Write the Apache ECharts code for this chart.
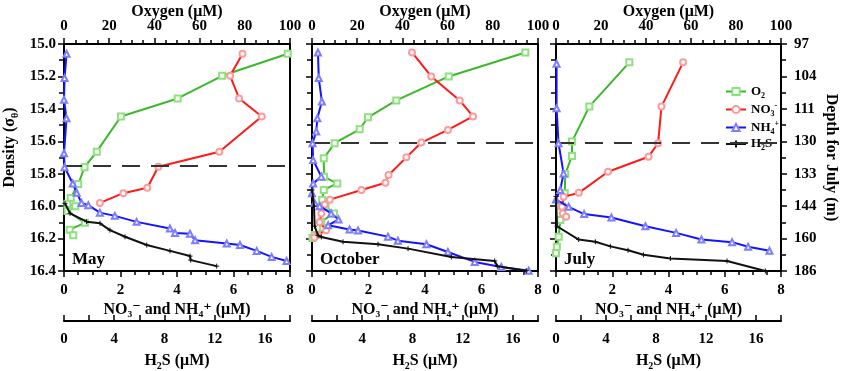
<!DOCTYPE html>
<html>
<head>
<meta charset="utf-8">
<script src="https://cdn.jsdelivr.net/npm/echarts@6/dist/echarts.min.js"></script>
<style>
  html, body { margin: 0; padding: 0; background: #fff; }
  #chart { width: 843px; height: 371px; }
</style>
</head>
<body>
<div id="chart"></div>
<script>
// profiles: [value, density sigma-theta]
const mayO2 = [[99, 15.06], [70, 15.196], [50.3, 15.336], [25.2, 15.447], [14.5, 15.664], [9.1, 15.76], [6.3, 15.864], [3.0, 15.95], [1.5, 15.985], [5.0, 16.0], [1.5, 16.03], [9.3, 16.103], [2.5, 16.145], [4.1, 16.18]];
const mayNO3 = [[6.32, 15.06], [5.88, 15.196], [6.2, 15.336], [7.0, 15.447], [5.5, 15.664], [3.34, 15.757], [2.95, 15.887], [2.1, 15.92], [1.27, 15.98]];
const mayNH4 = [[0.09, 15.06], [0.02, 15.21], [0, 15.344], [0.09, 15.458], [0, 15.674], [0.02, 15.76], [0.31, 15.86], [0.45, 15.917], [0.62, 15.98], [0.86, 15.994], [1.27, 16.04], [1.8, 16.06], [2.57, 16.097], [3.75, 16.138], [3.93, 16.165], [4.46, 16.17], [4.64, 16.21], [5.76, 16.23], [6.23, 16.24], [6.82, 16.276], [7.35, 16.313], [7.88, 16.338]];
const mayH2S = [[0.08, 15.983], [0.48, 16.044], [1.8, 16.096], [2.87, 16.106], [3.66, 16.148], [4.86, 16.189], [6.59, 16.24], [8.44, 16.276], [10.04, 16.308], [10.09, 16.333], [12.16, 16.37]];

const octO2 = [[94.4, 15.052], [60.5, 15.2], [37.3, 15.348], [24.8, 15.452], [21.1, 15.526], [10, 15.612], [5.2, 15.705], [5.3, 15.819], [11.2, 15.86], [5.2, 15.9], [4.5, 15.96], [6, 16.0], [9.7, 16.045], [4.1, 16.096], [4.9, 16.135], [1.2, 16.178], [0.2, 16.197]];
const octNO3 = [[3.54, 15.052], [4.22, 15.2], [5.23, 15.348], [5.7, 15.447], [4.81, 15.53], [3.87, 15.608], [3.34, 15.699], [2.71, 15.808], [2.6, 15.856], [1.75, 15.9], [0.63, 15.96], [0.45, 15.99], [0.33, 16.045], [0.27, 16.1], [0.5, 16.148], [0.2, 16.178], [0.08, 16.193]];
const octNH4 = [[0.21, 15.052], [0.24, 15.21], [0.35, 15.355], [0.19, 15.458], [0.15, 15.54], [0.02, 15.612], [0.04, 15.716], [0.33, 15.818], [0.04, 15.86], [0, 15.92], [0.09, 15.98], [0.27, 16.0], [0.68, 16.045], [0.94, 16.082], [0.57, 16.118], [1.33, 16.144], [1.63, 16.15], [2.69, 16.188], [3.04, 16.213], [4.05, 16.235], [4.81, 16.283], [5.76, 16.344], [6.7, 16.375], [7.67, 16.398]];
const octH2S = [[0, 15.9], [0.16, 16.0], [0.21, 16.124], [0.48, 16.18], [0.74, 16.19], [2.47, 16.22], [5.26, 16.235], [7.65, 16.262], [11.1, 16.313], [14.55, 16.338], [14.76, 16.371], [17.07, 16.398]];

const julO2 = [[32.6, 15.113], [14.8, 15.386], [7.1, 15.602], [7.1, 15.69], [4.1, 15.802], [3.9, 15.92], [2.7, 16.0], [1.9, 16.086], [1.2, 16.189], [0.4, 16.25], [0, 16.29]];
const julNO3 = [[4.52, 15.113], [3.75, 15.386], [3.63, 15.612], [3.29, 15.695], [1.85, 15.788], [0.81, 15.918], [0.27, 15.942], [0.21, 16.004], [0.24, 16.045], [0.36, 16.066]];
const julNH4 = [[0.02, 15.122], [0.02, 15.396], [0.09, 15.612], [0.27, 15.798], [0.15, 15.9], [0, 15.959], [0.45, 16.004], [1.0, 16.049], [1.97, 16.07], [3.18, 16.124], [4.27, 16.165], [5.17, 16.206], [6.26, 16.222], [6.83, 16.25], [7.59, 16.275]];
const julH2S = [[0, 15.94], [0.08, 16.124], [1.81, 16.206], [3.15, 16.22], [4.35, 16.248], [5.76, 16.272], [7.0, 16.3], [9.15, 16.323], [13.68, 16.338], [16.75, 16.4]];

const months = ["May", "October", "July"];
const boundary = [15.75, 15.61, 15.61];   // dashed line, density
const depthLabels = ["97", "104", "111", "130", "133", "144", "160", "186"];  // July depth at 15.0 ... 16.4
const seriesNames = ["O2", "NO3", "NH4", "H2S"];

const panels = [
  [mayO2, mayNO3, mayNH4, mayH2S],
  [octO2, octNO3, octNH4, octH2S],
  [julO2, julNO3, julNH4, julH2S],
];

const FONT = "Liberation Serif";
const gridBox = [
  { left: 64, width: 226 },
  { left: 312, width: 226 },
  { left: 556, width: 225 },
];
const GRID_TOP = 44, GRID_H = 227;

const labelStyle = { fontFamily: FONT, fontWeight: "bold", fontSize: 15, color: "#000" };
const rich = {
  a: { fontFamily: FONT, fontWeight: "bold", fontSize: 16, color: "#000", lineHeight: 20 },
  sub: { fontFamily: FONT, fontWeight: "bold", fontSize: 10, color: "#000", verticalAlign: "bottom", lineHeight: 12 },
  sup: { fontFamily: FONT, fontWeight: "bold", fontSize: 10, color: "#000", verticalAlign: "top", lineHeight: 12 },
};
const legendRich = {
  a: { fontFamily: FONT, fontWeight: "bold", fontSize: 13, color: "#000", lineHeight: 16 },
  sub: { fontFamily: FONT, fontWeight: "bold", fontSize: 8, color: "#000", verticalAlign: "bottom", lineHeight: 9 },
  sup: { fontFamily: FONT, fontWeight: "bold", fontSize: 8, color: "#000", verticalAlign: "top", lineHeight: 9 },
};
const legendText = {
  O2: "{a|O}{sub|2}",
  NO3: "{a|NO}{sub|3}{sup|-}",
  NH4: "{a|NH}{sub|4}{sup|+}",
  H2S: "{a|H}{sub|2}{a|S}",
};

const axisLine = { onZero: false, lineStyle: { color: "#000", width: 2 } };
const tickStyle = { lineStyle: { color: "#000", width: 1.5 } };

const lineColor = ["#3cb82c", "#ff1a1a", "#1414ff", "#111111"];
const markColor = ["#8fe07f", "#ff9a9a", "#7d7dff", "#111111"];
const symbols = ["emptyRect", "emptyCircle", "emptyTriangle", "path://M0,5L10,5M5,0L5,10"];
const symbolSizes = [6, 6, 6, 5];

const grid = [], xAxis = [], yAxis = [], series = [], title = [], graphic = [];

// grids 0..2: panels; grids 3..5: same boxes, carry the H2S scale
for (let pass = 0; pass < 2; pass++) {
  gridBox.forEach((g) => {
    grid.push({ left: g.left, width: g.width, top: GRID_TOP, height: GRID_H, outerBoundsMode: "none" });
  });
}

gridBox.forEach((g, i) => {
  // xAxis 2i: oxygen (top)
  xAxis.push({
    gridIndex: i, type: "value", position: "top", min: 0, max: 100, interval: 20,
    name: "Oxygen (μM)", nameLocation: "middle", nameGap: 24, nameMoveOverlap: false,
    nameTextStyle: { fontFamily: FONT, fontWeight: "bold", fontSize: 16, color: "#000" },
    axisLine: axisLine,
    axisTick: Object.assign({ length: 6 }, tickStyle),
    minorTick: { show: true, splitNumber: 4, length: 4, lineStyle: { color: "#000", width: 1.5 } },
    axisLabel: Object.assign({ margin: 10 }, labelStyle),
    splitLine: { show: false },
  });
  // xAxis 2i+1: nitrate / ammonium (bottom); its title is a graphic text
  xAxis.push({
    gridIndex: i, type: "value", position: "bottom", min: 0, max: 8, interval: 2,
    axisLine: axisLine,
    axisTick: Object.assign({ length: 6 }, tickStyle),
    minorTick: { show: true, splitNumber: 4, length: 4, lineStyle: { color: "#000", width: 1.5 } },
    axisLabel: Object.assign({ margin: 12, hideOverlap: false }, labelStyle),
    splitLine: { show: false },
  });
});
gridBox.forEach((g, i) => {
  // xAxis 6+i: sulfide, offset below the panel
  xAxis.push({
    gridIndex: 3 + i, type: "value", position: "bottom", offset: 50, min: 0, max: 18, interval: 2,
    name: "{a|H}{sub|2}{a|S (μM)}",
    nameLocation: "middle", nameGap: 30, nameMoveOverlap: false,
    nameTextStyle: { rich: rich },
    axisLine: axisLine,
    axisTick: Object.assign({ length: 6, inside: true }, tickStyle),
    axisLabel: Object.assign({ margin: 11, formatter: (v) => (v % 4 === 0 ? String(v) : "") }, labelStyle),
    splitLine: { show: false },
  });
});

gridBox.forEach((g, i) => {
  yAxis.push({
    gridIndex: i, type: "value", position: "left", inverse: true, min: 15, max: 16.4, interval: 0.2,
    name: i === 0 ? "{a|Density (σ}{sub|θ}{a|)}" : "",
    nameLocation: "middle", nameGap: 44, nameRotate: 90, nameMoveOverlap: false,
    nameTextStyle: { rich: rich, padding: [0, 0, 0, 20] },
    axisLine: axisLine,
    axisTick: Object.assign({ length: 6 }, tickStyle),
    minorTick: { show: true, splitNumber: 2, length: 5, lineStyle: { color: "#000", width: 1.5 } },
    axisLabel: Object.assign({ show: i === 0, margin: 8, formatter: (v) => v.toFixed(1) }, labelStyle),
    splitLine: { show: false },
  });
  yAxis.push({
    gridIndex: i, type: "value", position: "right", inverse: true, min: 15, max: 16.4, interval: 0.2,
    name: i === 2 ? "Depth for July (m)" : "",
    nameLocation: "middle", nameGap: 42, nameRotate: -90, nameMoveOverlap: false,
    nameTextStyle: { fontFamily: FONT, fontWeight: "bold", fontSize: 16, color: "#000" },
    axisLine: axisLine,
    axisTick: Object.assign({ show: i === 2, length: 6 }, tickStyle),
    minorTick: { show: i === 2, splitNumber: 2, length: 5, lineStyle: { color: "#000", width: 1.5 } },
    axisLabel: Object.assign({
      show: i === 2, margin: 13,
      formatter: (v) => depthLabels[Math.round((v - 15) / 0.2)] || "",
    }, labelStyle),
    splitLine: { show: false },
  });
});
gridBox.forEach((g, i) => {
  // yAxis 6+i: density for the H2S overlay (hidden)
  yAxis.push({ gridIndex: 3 + i, type: "value", inverse: true, min: 15, max: 16.4, show: false });
});

gridBox.forEach((g, i) => {
  panels[i].forEach((data, k) => {
    const isH2S = k === 3;
    const s = {
      name: seriesNames[k],
      type: "line",
      xAxisIndex: isH2S ? 6 + i : k === 0 ? 2 * i : 2 * i + 1,
      yAxisIndex: isH2S ? 6 + i : 2 * i,
      data: data,
      symbol: symbols[k],
      symbolSize: symbolSizes[k],
      showAllSymbol: true,
      lineStyle: { color: lineColor[k], width: 2 },
      itemStyle: isH2S
        ? { color: "#111", borderColor: "#111", borderWidth: 1 }
        : { color: markColor[k], borderWidth: 1 },
      z: 3 + k,
    };
    if (k === 0) {
      s.markLine = {
        silent: true, symbol: "none", label: { show: false },
        lineStyle: { color: "#333", width: 2, type: [18, 11] },
        data: [{ yAxis: boundary[i] }],
      };
    }
    series.push(s);
  });

  title.push({
    text: months[i],
    left: g.left + 3, top: 246,
    textStyle: { fontFamily: FONT, fontWeight: "bold", fontSize: 17, color: "#000" },
  });

  // NO3- and NH4+ axis title, kept clear of the tick labels
  graphic.push({
    type: "text",
    x: g.left + g.width / 2,
    y: GRID_TOP + GRID_H + 39,
    silent: true,
    style: {
      text: "NO₃⁻ and NH₄⁺ (μM)",
      fontFamily: FONT + ", DejaVu Serif",
      fontWeight: "bold",
      fontSize: 16,
      fill: "#000",
      align: "center",
      verticalAlign: "middle",
    },
  });
});

const chart = echarts.init(document.getElementById("chart"));
chart.setOption({
  animation: false,
  backgroundColor: "#fff",
  title: title,
  graphic: graphic,
  legend: {
    data: seriesNames,
    left: 720, top: 80,
    orient: "vertical",
    itemWidth: 20, itemHeight: 9, itemGap: 2,
    formatter: (n) => legendText[n],
    textStyle: { rich: legendRich },
    backgroundColor: "transparent",
  },
  grid: grid,
  xAxis: xAxis,
  yAxis: yAxis,
  series: series,
});
</script>
</body>
</html>
